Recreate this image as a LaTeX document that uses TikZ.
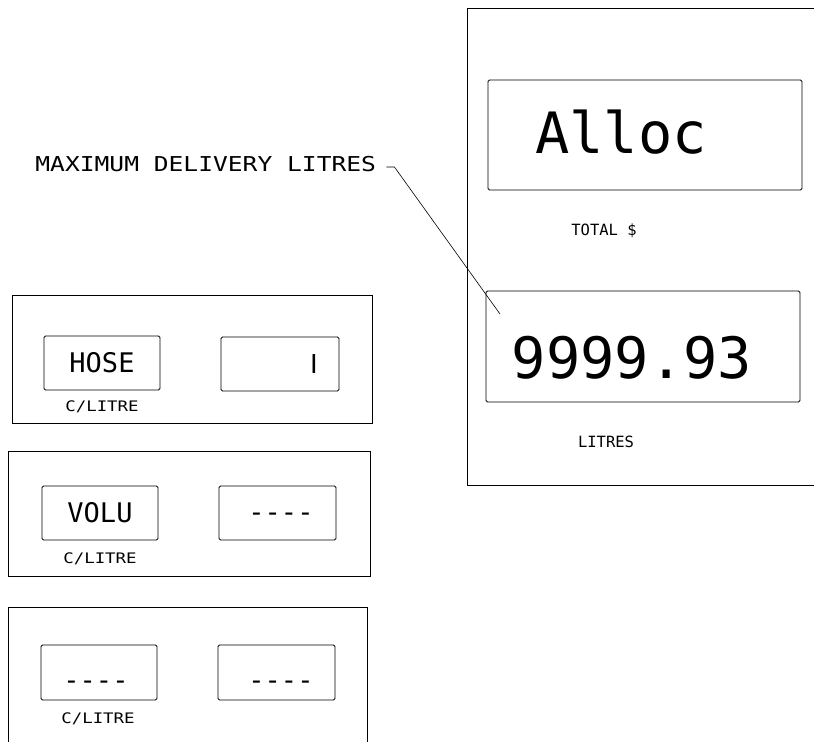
\documentclass[tikz,border=0pt]{standalone}
\usepackage{fontspec}
\newfontfamily\plotn{DejaVu Sans Mono}
\newfontfamily\plots[FakeStretch=1.2]{DejaVu Sans Mono}
\newfontfamily\plotbar{DejaVu Sans}
\begin{document}
\begin{tikzpicture}[x=1pt,y=-1pt,line width=0.8pt,
  panel/.style={draw,rectangle,inner sep=0pt},
  disp/.style={draw,rectangle,rounded corners=1.5pt,inner sep=0pt},
  smallbox/.style={disp,minimum width=116pt,minimum height=54pt},
  bigbox/.style={disp,minimum width=314pt,minimum height=110pt},
  dtext/.style={inner sep=0pt,font=\plotn\fontsize{27}{27}\selectfont},
  ltext/.style={inner sep=0pt,font=\plots\fontsize{14.5}{14.5}\selectfont},
  rtext/.style={inner sep=0pt,font=\plotn\fontsize{15.5}{15.5}\selectfont},
  btext/.style={inner sep=0pt,font=\plotn\fontsize{57}{57}\selectfont},
  lead/.style={line width=0.6pt}]
\useasboundingbox (0,0) rectangle (814,742);

% right-hand panel
\draw (814,8) -- (467,8) -- (467,485) -- (814,485);
\node[bigbox] (allocbox) at (645,135) {};
\node[btext] (alloc) at (621,132) {Alloc};
\node[rtext] (total) at (604,231) {TOTAL \$};
\node[bigbox,minimum height=111pt] (litbox) at (643,346.5) {};
\node[btext] (litval) at (632,358) {9999.93};
\node[rtext] (litres) at (606,442) {LITRES};

% leader
\node[inner sep=0pt,anchor=west,font=\plots\fontsize{20.5}{20.5}\selectfont] (maxlbl) at (35,164) {MAXIMUM DELIVERY LITRES};
\coordinate (leadend) at (500,314);
\draw[lead] ([xshift=10pt,yshift=-3pt]maxlbl.east) -- ([xshift=18pt,yshift=-3pt]maxlbl.east) -- (leadend);

% panel 1
\node[panel,minimum width=360pt,minimum height=128pt] (p1) at (192,359) {};
\node[smallbox] (hosebox) at (102,363) {};
\node[dtext] (hose) at (hosebox) {HOSE};
\node[smallbox,minimum width=118pt] (r1box) at (280,364) {};
\node[inner sep=0pt,font=\plotbar\fontsize{26}{26}\selectfont] (one) at (314,364) {I};
\node[ltext] (l1) at (102,407) {C/LITRE};

% panel 2
\node[panel,minimum width=362pt,minimum height=125pt] (p2) at (189,513.5) {};
\node[smallbox] (volubox) at (100,513) {};
\node[dtext] (volu) at (volubox) {VOLU};
\node[smallbox,minimum width=117pt] (r2box) at (277.5,513) {};
\node[dtext] (r2dash) at (281,517) {----};
\node[ltext] (l2) at (100,559) {C/LITRE};

% panel 3
\draw (8,742) -- (8,607) -- (367,607) -- (367,742);
\node[smallbox,minimum height=55pt] (l3box) at (99,672.5) {};
\node[dtext] (l3dash) at (96,685) {----};
\node[smallbox,minimum width=117pt,minimum height=55pt] (r3box) at (276.5,672.5) {};
\node[dtext] (r3dash) at (281,685) {----};
\node[ltext] (l3) at (98,719) {C/LITRE};
\end{tikzpicture}
\end{document}
